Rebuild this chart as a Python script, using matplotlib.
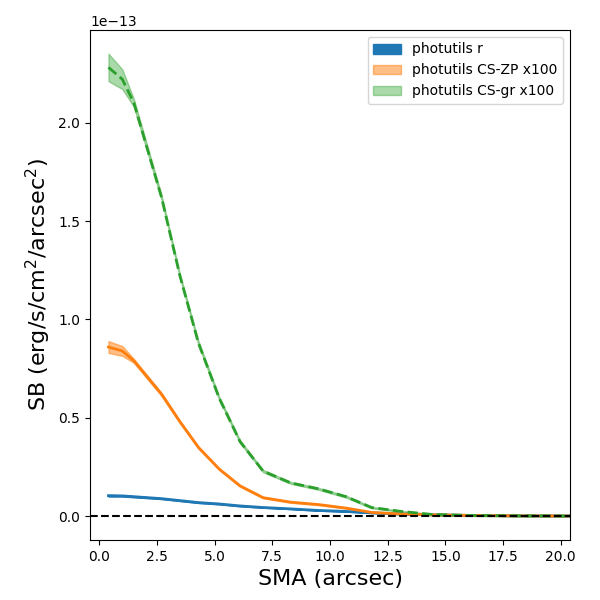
import numpy as np
import matplotlib.pyplot as plt

sma = np.array([0.4, 1.0, 1.5, 2.7, 3.5, 4.3, 5.2, 6.1, 7.1, 8.3, 9.5, 10.7, 11.8, 13.1, 14.4, 16.0, 18.0, 20.5])
sb_r = np.array([0.105, 0.104, 0.100, 0.090, 0.080, 0.070, 0.063, 0.053, 0.045, 0.038, 0.030, 0.025, 0.018, 0.012, 0.008, 0.005, 0.003, 0.002]) * 1e-13
err_r = np.array([0.004, 0.003, 0.003, 0.002, 0.002, 0.002, 0.002, 0.002, 0.001, 0.001, 0.001, 0.001, 0.001, 0.001, 0.001, 0.001, 0.001, 0.001]) * 1e-13
sb_zp = np.array([0.86, 0.84, 0.79, 0.62, 0.48, 0.35, 0.24, 0.155, 0.095, 0.072, 0.060, 0.042, 0.020, 0.012, 0.008, 0.005, 0.003, 0.002]) * 1e-13
err_zp = np.array([0.03, 0.025, 0.01, 0.008, 0.006, 0.005, 0.004, 0.004, 0.003, 0.003, 0.003, 0.003, 0.002, 0.002, 0.002, 0.002, 0.002, 0.002]) * 1e-13
sb_gr = np.array([2.28, 2.22, 2.10, 1.62, 1.22, 0.88, 0.60, 0.38, 0.23, 0.17, 0.14, 0.10, 0.045, 0.025, 0.010, 0.005, 0.003, 0.002]) * 1e-13
err_gr = np.array([0.07, 0.05, 0.02, 0.012, 0.01, 0.01, 0.008, 0.007, 0.006, 0.005, 0.005, 0.005, 0.004, 0.003, 0.003, 0.003, 0.003, 0.003]) * 1e-13

fig, ax = plt.subplots(figsize=(6, 6), dpi=100)
ax.fill_between(sma, sb_r - err_r, sb_r + err_r, color='C0', label='photutils r')
ax.plot(sma, sb_r, color='C0', lw=2)
ax.fill_between(sma, sb_zp - err_zp, sb_zp + err_zp, color='C1', alpha=0.5, label='photutils CS-ZP x100')
ax.plot(sma, sb_zp, color='C1', lw=2)
ax.fill_between(sma, sb_gr - err_gr, sb_gr + err_gr, color='C2', alpha=0.4, label='photutils CS-gr x100')
ax.plot(sma, sb_gr, color='C2', lw=2, ls='--')
ax.axhline(0, color='k', ls='--')

ax.set_xlim(-0.4, 20.4)
ax.set_ylim(-0.12e-13, 2.47e-13)
ax.set_xlabel('SMA (arcsec)', fontsize=16)
ax.set_ylabel('SB (erg/s/cm$^2$/arcsec$^2$)', fontsize=16)
ax.legend(loc='upper right')
plt.subplots_adjust(left=0.15, right=0.95, top=0.95, bottom=0.1)
plt.savefig('out.png')
